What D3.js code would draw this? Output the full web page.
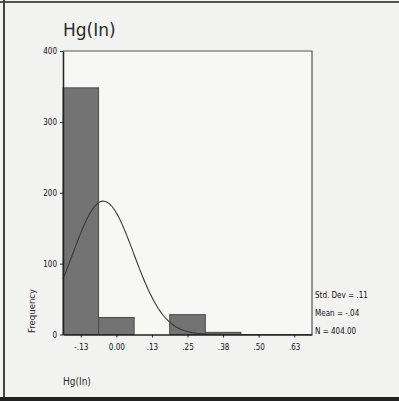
<!DOCTYPE html>
<html><head><meta charset="utf-8">
<script src="https://cdn.jsdelivr.net/npm/d3@7"></script>
<style>
html,body{margin:0;padding:0;background:#f2f2f0;}
svg{display:block;}
</style></head>
<body>
<script>
// Data
const binCenters = [-0.125, 0.0, 0.125, 0.25, 0.375, 0.5, 0.625];
const frequencies = [348, 24, 0, 28, 3, 0, 0];
const xTickLabels = ["-.13", "0.00", ".13", ".25", ".38", ".50", ".63"];
const yTicks = [0, 100, 200, 300, 400];
const curveStats = { sd: 0.107, mean: -0.046, n: 404 };
const statLabels = ["Std. Dev = .11", "Mean = -.04", "N = 404.00"];
const binWidth = 0.125;

(function(){
const W = 399, H = 401;
const svg = d3.select("body").append("svg").attr("width", W).attr("height", H);
const font = "'DejaVu Sans Condensed','Liberation Sans Narrow',sans-serif";

// page frame
svg.append("rect").attr("x",0).attr("y",0).attr("width",W).attr("height",H).attr("fill","#f2f2f0");
svg.append("line").attr("x1",0).attr("x2",W).attr("y1",2).attr("y2",2).attr("stroke","#555").attr("stroke-width",2);
svg.append("line").attr("x1",4).attr("x2",4).attr("y1",0).attr("y2",H).attr("stroke","#444").attr("stroke-width",2);
svg.append("line").attr("x1",0).attr("x2",W).attr("y1",399).attr("y2",399).attr("stroke","#222").attr("stroke-width",4);

const pL = 63, pR = 312, pT = 51, pB = 334.5;
const x = d3.scaleLinear().domain([-0.1875, 0.6875]).range([pL, pR]);
const y = d3.scaleLinear().domain([0, 400]).range([pB, pT]);

// plot background
svg.append("rect").attr("x",pL).attr("y",pT).attr("width",pR-pL).attr("height",pB-pT)
  .attr("fill","#f7f7f6");

// bars
svg.selectAll("rect.bar").data(frequencies.map((f,i)=>({c:binCenters[i],f})).filter(d=>d.f>0))
  .enter().append("rect").attr("class","bar")
  .attr("x", d=>x(d.c-binWidth/2))
  .attr("width", d=>x(d.c+binWidth/2)-x(d.c-binWidth/2))
  .attr("y", d=>y(d.f))
  .attr("height", d=>y(0)-y(d.f))
  .attr("fill","#737373").attr("stroke","#4a4a4a").attr("stroke-width",1);

// fitted normal curve
const pts = d3.range(x.domain()[0], x.domain()[1]+1e-9, 0.005).map(v=>{
  const z=(v-curveStats.mean)/curveStats.sd;
  return [v, curveStats.n*binWidth/(curveStats.sd*Math.sqrt(2*Math.PI))*Math.exp(-0.5*z*z)];
});
svg.append("path").datum(pts)
  .attr("d", d3.line().x(d=>x(d[0])).y(d=>y(d[1])).curve(d3.curveBasis))
  .attr("fill","none").attr("stroke","#3a3a3a").attr("stroke-width",1.1);

// plot border (top and right)
svg.append("path").attr("d",`M${pL},${pT}H${pR}V${pB}`).attr("fill","none").attr("stroke","#555").attr("stroke-width",1.2);

// axes
const xAxis = d3.axisBottom(x).tickValues(binCenters).tickFormat((d,i)=>xTickLabels[i]).tickSize(3).tickSizeOuter(0);
const gx = svg.append("g").attr("transform",`translate(0,${pB})`).call(xAxis);
gx.select(".domain").attr("stroke","#222").attr("stroke-width",1.5);
gx.selectAll(".tick line").attr("stroke","#222");
gx.selectAll("text").attr("font-family",font).attr("font-size",8).attr("fill","#111").attr("dy","1.2em");

const yAxis = d3.axisLeft(y).tickValues(yTicks).tickSize(3).tickSizeOuter(0);
const gy = svg.append("g").attr("transform",`translate(${pL},0)`).call(yAxis);
gy.select(".domain").attr("stroke","#222").attr("stroke-width",1.5);
gy.selectAll(".tick line").attr("stroke","#222");
gy.selectAll("text").attr("font-family",font).attr("font-size",8).attr("fill","#111");

// titles
svg.append("text").attr("x",63).attr("y",36).text("Hg(In)")
  .attr("font-family","'DejaVu Sans','Tahoma',sans-serif").attr("font-size",17).attr("fill","#2a2a2a");
svg.append("text").attr("x",63).attr("y",385).text("Hg(In)")
  .attr("font-family",font).attr("font-size",10).attr("fill","#2a2a2a");
svg.append("text").attr("transform","translate(35,333) rotate(-90)").text("Frequency")
  .attr("font-family",font).attr("font-size",9.5).attr("fill","#2a2a2a");

svg.selectAll("text.stat").data(statLabels).enter().append("text").attr("class","stat")
  .attr("x",315).attr("y",(d,i)=>298+i*18).text(d=>d)
  .attr("font-family",font).attr("font-size",8).attr("fill","#111");
})();
</script>
</body></html>
